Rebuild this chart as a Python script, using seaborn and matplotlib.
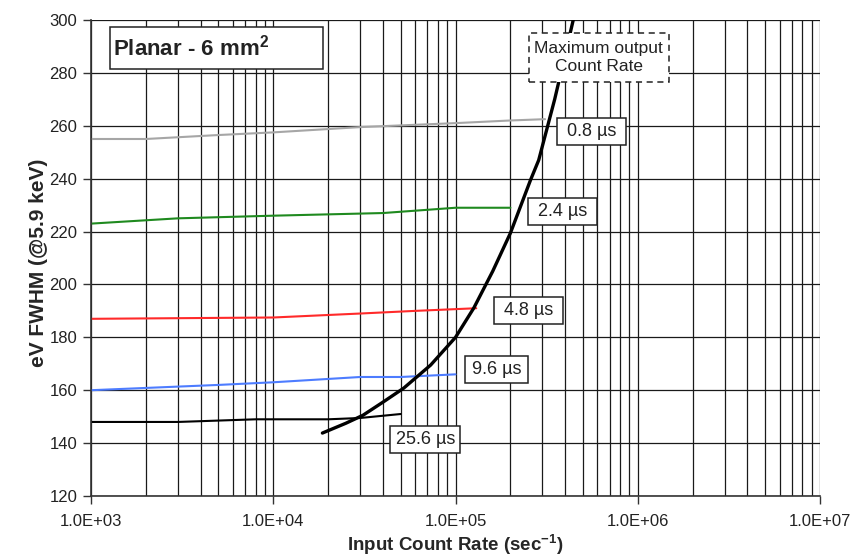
import numpy as np
import pandas as pd
import matplotlib
matplotlib.use("Agg")
import matplotlib.pyplot as plt
from matplotlib.patches import Rectangle
from matplotlib.transforms import IdentityTransform
from matplotlib.ticker import LogLocator, FuncFormatter, MultipleLocator, NullFormatter
import seaborn as sns

# FWHM vs input count rate for each shaping time
rate_08 = [1e3, 2e3, 5e3, 1e4, 3e4, 1e5, 2e5, 3.1e5]
fwhm_08 = [255, 255, 256.5, 257.5, 259.5, 261, 262, 262.5]

rate_24 = [1e3, 3e3, 1e4, 4e4, 1e5, 2e5]
fwhm_24 = [223, 225, 226, 227, 229, 229]

rate_48 = [1e3, 1e4, 3e4, 6e4, 1.3e5]
fwhm_48 = [187, 187.5, 189, 190, 191]

rate_96 = [1e3, 5e3, 1e4, 3e4, 5e4, 1e5]
fwhm_96 = [160, 162, 163, 165, 165, 166]

rate_256 = [1e3, 3e3, 8e3, 2e4, 3e4, 5e4]
fwhm_256 = [148, 148, 149, 149, 149.5, 151]

# Maximum output count rate boundary
mocr_rate = [1.86e4, 2.5e4, 3.1e4, 4.0e4, 5.2e4, 7.3e4, 1.0e5, 1.26e5, 1.6e5, 2.0e5, 2.58e5, 2.86e5, 3.5e5, 4.0e5, 4.6e5]
mocr_fwhm = [143.8, 147.5, 150.5, 155.5, 160.8, 169.5, 180, 191.1, 205, 219.4, 239.5, 247.0, 270, 287, 305]

series_labels = ["0.8 \u00b5s", "2.4 \u00b5s", "4.8 \u00b5s", "9.6 \u00b5s", "25.6 \u00b5s"]
series_colors = ["#a6a6a6", "#1f8a1f", "#ff2a2a", "#4d7cff", "#000000"]

frames = []
for lab, r, f in zip(series_labels,
                     [rate_08, rate_24, rate_48, rate_96, rate_256],
                     [fwhm_08, fwhm_24, fwhm_48, fwhm_96, fwhm_256]):
    frames.append(pd.DataFrame({"rate": r, "fwhm": f, "shaping": lab}))
df = pd.concat(frames, ignore_index=True)
mocr = pd.DataFrame({"rate": mocr_rate, "fwhm": mocr_fwhm})

sns.set_style("white")
plt.rcParams["font.family"] = ["Liberation Sans", "DejaVu Sans"]
plt.rcParams["mathtext.fontset"] = "custom"
plt.rcParams["mathtext.rm"] = "Liberation Sans"
plt.rcParams["mathtext.bf"] = "Liberation Sans:bold"

fig = plt.figure(figsize=(8.54, 5.6), dpi=100)
ax = fig.add_axes([0.1066, 0.1143, 0.8536, 0.8500])

sns.lineplot(data=df, x="rate", y="fwhm", hue="shaping", palette=series_colors,
             hue_order=series_labels, linewidth=1.5, legend=False, ax=ax, sort=False)
sns.lineplot(data=mocr, x="rate", y="fwhm", color="black", linewidth=2.4,
             legend=False, ax=ax, sort=False)

ax.set_xscale("log")
ax.set_xlim(1e3, 1e7)
ax.set_ylim(120, 300)
ax.yaxis.set_major_locator(MultipleLocator(20))
ax.xaxis.set_major_locator(LogLocator(base=10, numticks=10))
ax.xaxis.set_minor_locator(LogLocator(base=10, subs=np.arange(2, 10), numticks=100))
ax.xaxis.set_minor_formatter(NullFormatter())
ax.xaxis.set_major_formatter(FuncFormatter(lambda v, p: f"{v:.1E}"))

ax.grid(True, which="major", color="#1a1a1a", linewidth=0.9)
ax.grid(True, which="minor", axis="x", color="#1a1a1a", linewidth=0.9)
ax.set_axisbelow(True)

for s in ["top", "right"]:
    ax.spines[s].set_visible(False)
for s in ["left", "bottom"]:
    ax.spines[s].set_color("#333333")
    ax.spines[s].set_linewidth(1.2)

ax.tick_params(axis="both", which="major", direction="out", length=6, width=1,
               color="#333333", labelsize=12, labelcolor="#222222", left=True, bottom=True)
ax.tick_params(axis="x", which="major", pad=7)
ax.tick_params(axis="y", which="major", pad=4)
ax.tick_params(axis="x", which="minor", length=0)

ax.set_xlabel("Input Count Rate (sec$^{\\mathbf{-1}}$)", fontsize=13.5, fontweight="bold")
ax.set_ylabel("eV FWHM (@5.9 keV)", fontsize=15, fontweight="bold")
ax.xaxis.set_label_coords(0.5, -0.077)
ax.yaxis.set_label_coords(-0.059, 0.489)


def boxed_text(x, y, w, h, text, size, ls="-", ha="center", text_dx=0, weight="normal"):
    """Draw a fixed-size white box (w, h in pixels) centred on data point (x, y)."""
    cx, cy = ax.transData.transform((x, y))
    ax.add_artist(Rectangle((cx - w / 2, cy - h / 2), w, h, transform=IdentityTransform(),
                            facecolor="white", edgecolor="#222222", linewidth=1.1,
                            linestyle=ls, zorder=5, clip_on=False))
    tx = cx - w / 2 + text_dx if ha == "left" else cx
    ax.text(tx, cy, text, transform=IdentityTransform(), ha=ha, va="center",
            fontsize=size, color="#222222", zorder=6, linespacing=1.25, fontweight=weight)


label_pos = [(5.6e5, 258.0), (3.87e5, 227.4), (2.52e5, 190.3), (1.68e5, 168.0), (6.84e4, 141.5)]
label_w = [69, 69, 69, 63, 70]
for lab, (xv, yv), w in zip(series_labels, label_pos, label_w):
    boxed_text(xv, yv, w, 27, lab, 13)

boxed_text(6.1e5, 286.0, 140, 49, "Maximum output\nCount Rate", 12.5, ls=(0, (4, 3)))

boxed_text(4.86e3, 289.4, 213, 42, "Planar - 6 mm$^{\\mathbf{2}}$", 16, ha="left",
           text_dx=3, weight="bold")

fig.savefig("out.png", dpi=100)
